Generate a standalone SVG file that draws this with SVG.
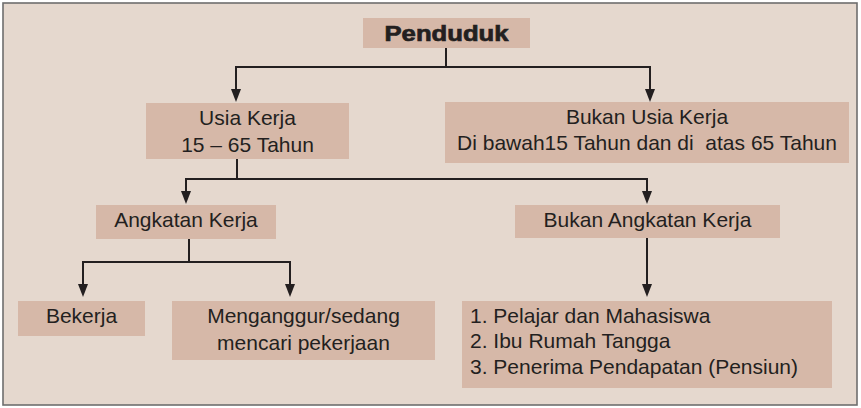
<svg xmlns="http://www.w3.org/2000/svg" width="861" height="408" viewBox="0 0 861 408">
<defs>
<style>
.box{fill:#d6b8a8}
.t{font-family:"Liberation Sans",Arial,sans-serif;font-size:21px;fill:#231f20;text-anchor:middle}
.l{text-anchor:start}
.c{fill:none;stroke:#231f20;stroke-width:2}
</style>
<marker id="ah" markerWidth="13" markerHeight="10" refX="10" refY="5" orient="auto" markerUnits="userSpaceOnUse" viewBox="0 0 13 10">
<path d="M0,0 L13,5 L0,10 Z" fill="#231f20"/>
</marker>
</defs>
<rect x="0" y="0" width="861" height="408" fill="#ffffff"/>
<rect x="3" y="3" width="854" height="402" fill="#e5d8ce" stroke="#6e6e6e" stroke-width="1.6"/>
<g id="connectors">
<path class="c" d="M446,48 V67"/>
<path class="c" d="M446,67 H236 V99" marker-end="url(#ah)"/>
<path class="c" d="M446,67 H650 V99" marker-end="url(#ah)"/>
<path class="c" d="M237,159 V179"/>
<path class="c" d="M237,179 H186 V201" marker-end="url(#ah)"/>
<path class="c" d="M237,179 H647 V201" marker-end="url(#ah)"/>
<path class="c" d="M189,239 V262"/>
<path class="c" d="M189,262 H83 V294" marker-end="url(#ah)"/>
<path class="c" d="M189,262 H290 V294" marker-end="url(#ah)"/>
<path class="c" d="M647,238 V294" marker-end="url(#ah)"/>
</g>
<g id="penduduk">
<rect class="box" x="363" y="18" width="167" height="30"/>
<text class="t" x="446.5" y="41" style="font-weight:bold;font-size:22px;stroke:#231f20;stroke-width:0.7" textLength="124" lengthAdjust="spacingAndGlyphs">Penduduk</text>
</g>
<g id="usia-kerja">
<rect class="box" x="146" y="103" width="203" height="56"/>
<text class="t" x="247.5" y="125">Usia Kerja</text>
<text class="t" x="247.5" y="152">15 – 65 Tahun</text>
</g>
<g id="bukan-usia-kerja">
<rect class="box" x="445" y="102" width="404" height="61"/>
<text class="t" x="647" y="124">Bukan Usia Kerja</text>
<text class="t" x="647" y="150" xml:space="preserve">Di bawah15 Tahun dan di  atas 65 Tahun</text>
</g>
<g id="angkatan-kerja">
<rect class="box" x="96" y="205" width="180" height="34"/>
<text class="t" x="186" y="227">Angkatan Kerja</text>
</g>
<g id="bukan-angkatan-kerja">
<rect class="box" x="515" y="205" width="265" height="33"/>
<text class="t" x="647.5" y="227">Bukan Angkatan Kerja</text>
</g>
<g id="bekerja">
<rect class="box" x="18" y="301" width="127" height="35"/>
<text class="t" x="81.5" y="323">Bekerja</text>
</g>
<g id="menganggur">
<rect class="box" x="172" y="301" width="263" height="59"/>
<text class="t" x="303.5" y="323">Menganggur/sedang</text>
<text class="t" x="303.5" y="350">mencari pekerjaan</text>
</g>
<g id="daftar">
<rect class="box" x="462" y="301" width="370" height="87"/>
<text class="t l" x="470" y="323">1. Pelajar dan Mahasiswa</text>
<text class="t l" x="470" y="348">2. Ibu Rumah Tangga</text>
<text class="t l" x="470" y="374">3. Penerima Pendapatan (Pensiun)</text>
</g>
</svg>
